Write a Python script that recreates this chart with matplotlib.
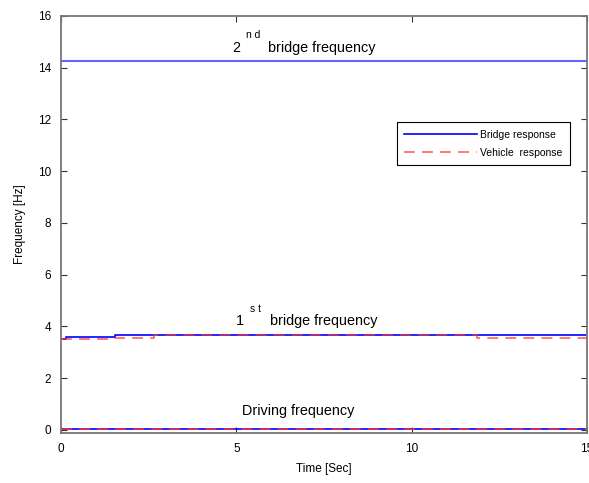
"""Frequency tracking of bridge and vehicle responses over time."""

import matplotlib

matplotlib.use("Agg")

import matplotlib.pyplot as plt

plt.rcParams["font.family"] = ["Liberation Sans", "DejaVu Sans"]

# identified frequency vs time (step-wise estimates)
bridge_t = [0.0, 0.15, 1.55, 15.0]
bridge_f = [3.50, 3.60, 3.65, 3.65]
vehicle_t = [0.0, 1.55, 2.65, 11.85, 15.0]
vehicle_f = [3.51, 3.57, 3.65, 3.57, 3.57]

# reference frequencies
second_bridge_freq = 14.25
driving_freq = 0.05
time_span = [0.0, 15.0]

xticks = [0, 5, 10, 15]
yticks = [0, 2, 4, 6, 8, 10, 12, 14, 16]

fig = plt.figure(figsize=(5.89, 4.83), dpi=100)
ax = fig.add_axes([0.1036, 0.1035, 0.893, 0.8635])

blue = "#0000ff"
red = "#ff3030"

ax.plot(bridge_t, bridge_f, color=blue, lw=1.2, drawstyle="steps-post",
        label="Bridge response")
ax.plot(time_span, [second_bridge_freq] * 2, color=blue, lw=1.5, alpha=0.6)
ax.plot(time_span, [driving_freq] * 2, color=blue, lw=1.2)

ax.plot(vehicle_t, vehicle_f, color=red, lw=1.3, alpha=0.7, dashes=(6, 4),
        drawstyle="steps-post", label="Vehicle  response")
ax.plot(time_span, [driving_freq] * 2, color=red, lw=1.3, alpha=0.8, dashes=(6, 4))

# annotations with spaced superscripts
fs = 10.4
ax.text(4.88, 14.62, "2", fontsize=fs, ha="left", va="baseline")
ax.text(5.28, 15.16, "n d", fontsize=7.5, ha="left", va="baseline")
ax.text(5.90, 14.62, "bridge frequency", fontsize=fs, ha="left", va="baseline")

ax.text(4.99, 4.07, "1", fontsize=fs, ha="left", va="baseline")
ax.text(5.39, 4.57, "s t", fontsize=7.5, ha="left", va="baseline")
ax.text(5.96, 4.07, "bridge frequency", fontsize=fs, ha="left", va="baseline")

ax.text(5.16, 0.57, "Driving frequency", fontsize=fs, ha="left", va="baseline")

ax.set_xlim(0, 15)
ax.set_ylim(-0.12, 16)
ax.set_xticks(xticks)
ax.set_yticks(yticks)
ax.tick_params(direction="in", top=True, right=True, labelsize=8.5, length=4,
               width=0.8, color="#333333", pad=7)
for s in ax.spines.values():
    s.set_color("#777777")
    s.set_linewidth(1.3)

ax.set_xlabel("Time [Sec]", fontsize=8.5, labelpad=6)
ax.set_ylabel("Frequency [Hz]", fontsize=8.5, labelpad=9)

leg = ax.legend(loc="upper right", bbox_to_anchor=(0.977, 0.757), fontsize=7.5,
                handlelength=7.0, handletextpad=0.3, borderpad=0.7,
                labelspacing=0.8, fancybox=False, framealpha=1)
leg.get_frame().set_edgecolor("black")
leg.get_frame().set_linewidth(0.8)

fig.savefig("out.png", dpi=100)
plt.close(fig)
